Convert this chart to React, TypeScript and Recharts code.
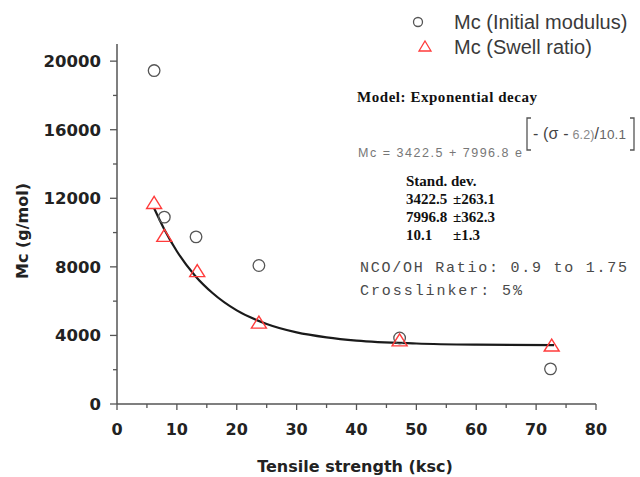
import React from "react";
import { ComposedChart, Scatter, Line, XAxis, YAxis } from "recharts";

// Mc from initial modulus (circles)
const modulusX = [6.2, 7.9, 13.2, 23.7, 47.2, 72.4];
const modulusY = [19450, 10900, 9750, 8080, 3850, 2050];

// Mc from swell ratio (triangles)
const swellX = [6.2, 7.9, 13.4, 23.7, 47.2, 72.6];
const swellY = [11700, 9780, 7720, 4720, 3680, 3380];

// fitted exponential decay
const fitX = [6.2, 8, 10, 13, 16, 20, 25, 30, 35, 40, 50, 60, 73];
const fitY = [11420, 10120, 8910, 7500, 6460, 5460, 4670, 4180, 3890, 3700, 3530, 3460, 3430];

const xTicks = [0, 5, 10, 15, 20, 25, 30, 35, 40, 45, 50, 55, 60, 65, 70, 75, 80];
const yTicks = [0, 2000, 4000, 6000, 8000, 10000, 12000, 14000, 16000, 18000, 20000];

const zip = (xs: number[], ys: number[]) => xs.map((x, i) => ({ x, y: ys[i] }));
const modulusData = zip(modulusX, modulusY);
const swellData = zip(swellX, swellY);
const fitData = zip(fitX, fitY);

const AXIS = "#555";
const TICK_FONT = "'DejaVu Sans', sans-serif";

function XTick({ x, y, payload }: any) {
  const major = payload.value % 10 === 0;
  return (
    <g>
      <line x1={x} x2={x} y1={y} y2={y + (major ? 6 : 4)} stroke={AXIS} strokeWidth={1.3} />
      {major && (
        <text x={x} y={y + 31} textAnchor="middle" fontFamily={TICK_FONT} fontWeight="bold" fontSize={16} fill="#222">
          {payload.value}
        </text>
      )}
    </g>
  );
}

function YTick({ x, y, payload }: any) {
  const major = payload.value % 4000 === 0;
  return (
    <g>
      <line x1={x} x2={x - (major ? 7 : 4)} y1={y} y2={y} stroke={AXIS} strokeWidth={1.3} />
      {major && (
        <text x={x - 16} y={y + 6} textAnchor="end" fontFamily={TICK_FONT} fontWeight="bold" fontSize={16.5} fill="#222">
          {payload.value}
        </text>
      )}
    </g>
  );
}

const Circle = ({ cx, cy }: any) => (
  <circle cx={cx} cy={cy} r={5.8} fill="none" stroke="#555" strokeWidth={1.3} />
);

const Triangle = ({ cx, cy }: any) => (
  <path
    d={`M${cx},${cy - 7} L${cx + 7.5},${cy + 5} L${cx - 7.5},${cy + 5} Z`}
    fill="none"
    stroke="#ff3b3b"
    strokeWidth={1.4}
  />
);

export default function App() {
  return (
    <div style={{ position: "absolute", left: 0, top: 0, width: 640, height: 477, background: "#fff" }}>
      <ComposedChart width={640} height={477} margin={{ top: 44, right: 44, bottom: 0, left: 0 }}>
        <XAxis
          type="number"
          dataKey="x"
          domain={[0, 80]}
          ticks={xTicks}
          interval={0}
          height={73}
          tickSize={0}
          tickMargin={0}
          tickLine={false}
          tick={<XTick />}
          axisLine={{ stroke: AXIS, strokeWidth: 1.5 }}
        />
        <YAxis
          type="number"
          dataKey="y"
          domain={[0, 21000]}
          ticks={yTicks}
          interval={0}
          width={117}
          tickSize={0}
          tickMargin={0}
          tickLine={false}
          tick={<YTick />}
          axisLine={{ stroke: AXIS, strokeWidth: 1.5 }}
        />
        <Line
          data={fitData}
          dataKey="y"
          type="monotone"
          stroke="#1a1a1a"
          strokeWidth={2.2}
          dot={false}
          isAnimationActive={false}
        />
        <Scatter data={modulusData} shape={<Circle />} isAnimationActive={false} />
        <Scatter data={swellData} shape={<Triangle />} isAnimationActive={false} />
      </ComposedChart>

      <svg
        width={640}
        height={477}
        style={{ position: "absolute", left: 0, top: 0, pointerEvents: "none" }}
      >
        {/* axis titles */}
        <text x={355} y={472} textAnchor="middle" fontFamily={TICK_FONT} fontWeight="bold" fontSize={16} fill="#222">
          Tensile strength (ksc)
        </text>
        <text
          transform="translate(28,231) rotate(-90)"
          textAnchor="middle"
          fontFamily={TICK_FONT}
          fontWeight="bold"
          fontSize={16}
          fill="#222"
        >
          Mc (g/mol)
        </text>

        {/* legend */}
        <circle cx={418} cy={22} r={4.5} fill="none" stroke="#555" strokeWidth={1.3} />
        <text x={454} y={29} fontFamily="'Liberation Sans', Arial, sans-serif" fontSize={20} fill="#3a3a3a">
          Mc (Initial modulus)
        </text>
        <path d="M425,41 L431,51 L419,51 Z" fill="none" stroke="#ff3b3b" strokeWidth={1.3} />
        <text x={454} y={54} fontFamily="'Liberation Sans', Arial, sans-serif" fontSize={20} fill="#3a3a3a">
          Mc (Swell ratio)
        </text>

        {/* model annotation */}
        <text x={357} y={102} fontFamily="'Liberation Serif', serif" fontWeight="bold" fontSize={15} fill="#111" textLength={180}>
          Model: Exponential decay
        </text>
        <text x={358} y={157} fontFamily="'Liberation Sans', sans-serif" fontSize={12.5} fill="#777" textLength={164}>
          Mc = 3422.5 + 7996.8 e
        </text>
        <path d="M531,118 L527,118 L527,150 L531,150" fill="none" stroke="#555" strokeWidth={1.3} />
        <text x={533} y={139} fontFamily="'Liberation Sans', sans-serif" fill="#444" textLength={93}>
          <tspan fontSize={16}>- (σ -</tspan>
          <tspan fontSize={12.5} fill="#888"> 6.2)</tspan>
          <tspan fontSize={16}>/</tspan>
          <tspan fontSize={13.5} fill="#666">10.1</tspan>
        </text>
        <path d="M630,118 L634,118 L634,150 L630,150" fill="none" stroke="#555" strokeWidth={1.3} />

        <g fontFamily="'Liberation Serif', serif" fontWeight="bold" fontSize={15} fill="#111">
          <text x={406} y={186}>Stand. dev.</text>
          <text x={406} y={204}>3422.5</text>
          <text x={453} y={204}>±263.1</text>
          <text x={406} y={222}>7996.8</text>
          <text x={453} y={222}>±362.3</text>
          <text x={406} y={240}>10.1</text>
          <text x={453} y={240}>±1.3</text>
        </g>

        <g fontFamily="'Liberation Mono', monospace" fontSize={15} fill="#4a4a4a">
          <text x={360} y={272} textLength={267}>NCO/OH Ratio: 0.9 to 1.75</text>
          <text x={360} y={295} textLength={162}>Crosslinker: 5%</text>
        </g>
      </svg>
    </div>
  );
}
